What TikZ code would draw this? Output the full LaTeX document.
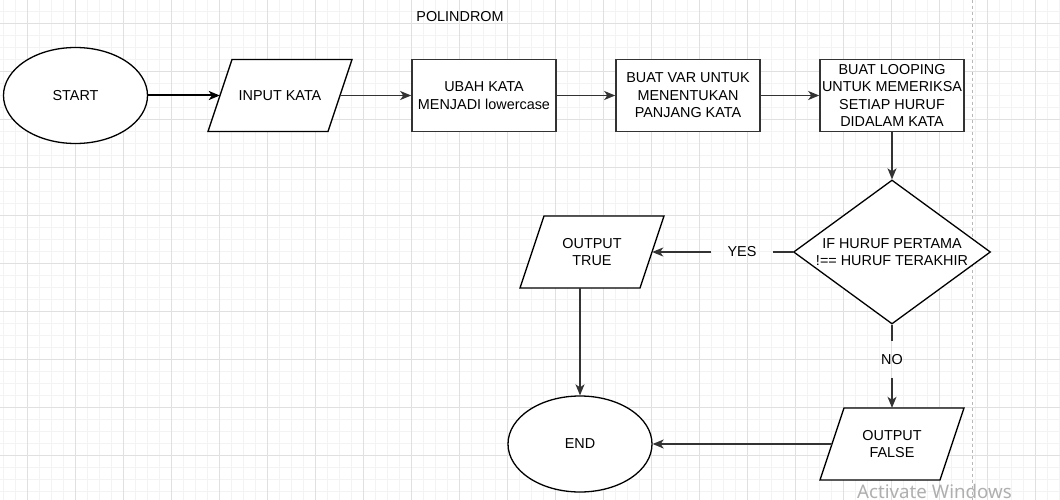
\documentclass[tikz,border=0pt]{standalone}
\usepackage{fontspec}
\setmainfont{Liberation Sans}
\newfontfamily\winfont{Noto Sans}
\usetikzlibrary{shapes.geometric,arrows.meta,calc}
\definecolor{gridminor}{HTML}{F3F3F3}
\definecolor{gridmajor}{HTML}{E0E0E0}
\definecolor{edgegray}{HTML}{333333}
\definecolor{pagedash}{HTML}{B8B8B8}
\definecolor{wintext}{HTML}{AFAFAF}
% parallelogram (input/output): outline drawn first, then the named text node
\newcommand\myioshape[3]{%
  \draw[ioline, shift={(#2)}] (-48,-36) -- (72,-36) -- (48,36) -- (-72,36) -- cycle;
  \node[iobox] (#1) at (#2) {#3};
}
\begin{document}
\begin{tikzpicture}[x=1pt,y=-1pt,
  txt/.style={font=\fontsize{14.4}{17.5}\selectfont, text=black, align=center},
  term/.style={txt, ellipse, draw=black, line width=1.3pt, fill=white, minimum width=144pt, minimum height=96pt, inner sep=0pt},
  procbox/.style={txt, rectangle, draw=edgegray, line width=1.6pt, fill=white, minimum width=144pt, minimum height=72pt, inner sep=0pt},
  ioline/.style={draw=black, line width=1.3pt, fill=white, line join=miter},
  iobox/.style={txt, rectangle, minimum width=144pt, minimum height=72pt, inner sep=0pt},
  decision/.style={diamond, draw=black, line width=1.3pt, fill=white, minimum width=197pt, minimum height=144pt, inner sep=0pt},
  edgelabel/.style={txt, inner xsep=16pt, inner ysep=13pt},
  conn/.style={draw=edgegray, line width=1.3pt},
  arrowconn/.style={conn, -{Stealth[length=11pt,width=9pt,inset=3pt]}},
]
\useasboundingbox (0,0) rectangle (1060,500);
\clip (0,0) rectangle (1060,500);
\fill[white] (0,0) rectangle (1060,500);
% grid
\foreach \i in {0,...,88} \draw[gridminor, line width=1pt] ({3.3+12*\i},0) -- ({3.3+12*\i},500);
\foreach \j in {0,...,41} \draw[gridminor, line width=1pt] (0,{11.3+12*\j}) -- (1060,{11.3+12*\j});
\foreach \i in {0,...,22} \draw[gridmajor, line width=1pt] ({27.3+48*\i},0) -- ({27.3+48*\i},500);
\foreach \j in {0,...,10} \draw[gridmajor, line width=1pt] (0,{23.3+48*\j}) -- (1060,{23.3+48*\j});
\draw[pagedash, line width=1pt, dash pattern=on 3pt off 3pt] (972.5,0) -- (972.5,500);

% nodes
\node[txt] (title) at (460,17) {POLINDROM};
\node[term] (start) at (75.5,95.5) {START};
\myioshape{input}{280,95.5}{INPUT KATA}
\node[procbox] (ubah) at (484,95.5) {UBAH KATA\\MENJADI lowercase};
\node[procbox] (var) at (688,95.5) {BUAT VAR UNTUK\\MENENTUKAN\\PANJANG KATA};
\node[procbox] (loop) at (892,95.5) {BUAT LOOPING\\UNTUK MEMERIKSA\\SETIAP HURUF\\DIDALAM KATA};
\node[decision] (dec) at (892,252) {};
\node[txt] (dectext) at (dec) {IF HURUF PERTAMA\\!== HURUF TERAKHIR};
\myioshape{otrue}{592,252}{OUTPUT\\TRUE}
\node[term] (end) at (580,444) {END};
\myioshape{ofalse}{892,444}{OUTPUT\\FALSE}
\node[edgelabel] (yes) at (742,252) {YES};
\node[edgelabel] (no) at (892,359.5) {NO};
\node[font=\winfont\fontsize{18.7}{22}\selectfont, text=wintext, anchor=base west, inner sep=0pt] (watermark) at (857,498.5) {Activate Windows};

% connectors
\draw[arrowconn, draw=black, line width=2pt] (start) -- ([xshift=12pt]input.west);
\draw[arrowconn] ([xshift=-12pt]input.east) -- (ubah);
\draw[arrowconn] (ubah) -- (var);
\draw[arrowconn] (var) -- (loop);
\draw[arrowconn] (loop) -- (dec);
\draw[conn] (dec) -- (yes);
\draw[arrowconn] (yes) -- ([xshift=-12pt]otrue.east);
\draw[arrowconn] (end.north |- otrue.south) -- (end);
\draw[conn] (dec) -- (no);
\draw[arrowconn] (no) -- (ofalse);
\draw[arrowconn] ([xshift=12pt]ofalse.west) -- (end);
\end{tikzpicture}
\end{document}
